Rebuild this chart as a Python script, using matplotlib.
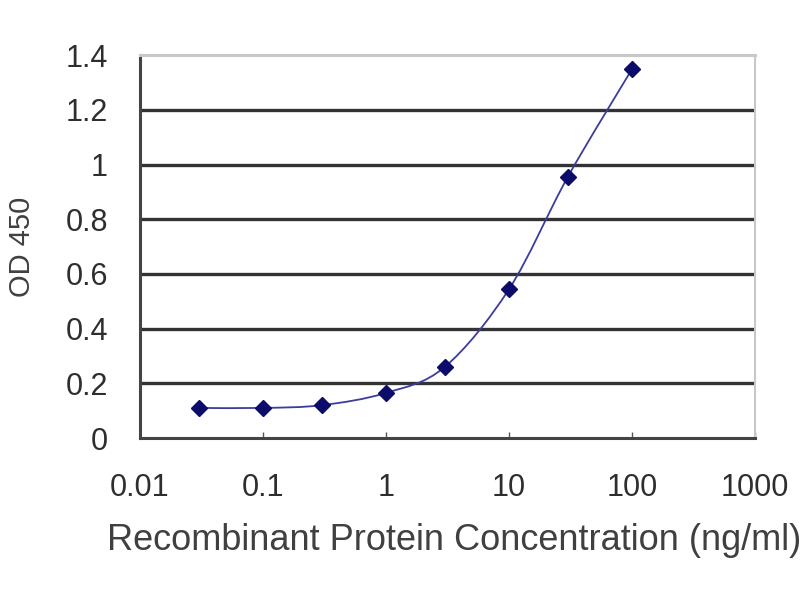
import matplotlib
matplotlib.use("Agg")
import matplotlib.pyplot as plt
import numpy as np
from matplotlib.path import Path
import matplotlib.patches as mpatches

plt.rcParams['font.family'] = ['Liberation Sans', 'DejaVu Sans']

# concentration (ng/ml) and OD 450
conc = [0.03, 0.1, 0.3, 1, 3, 10, 30, 100]
od = [0.11, 0.11, 0.12, 0.165, 0.26, 0.545, 0.955, 1.35]
xticks = [0.01, 0.1, 1, 10, 100, 1000]
xticklabels = ['0.01', '0.1', '1', '10', '100', '1000']
yticks = [0, 0.2, 0.4, 0.6, 0.8, 1, 1.2, 1.4]
yticklabels = ['0', '0.2', '0.4', '0.6', '0.8', '1', '1.2', '1.4']

navy = '#0c0c6a'


def smooth_path(xs, ys):
    # Catmull-Rom through the points, done in log-x space, as bezier segments
    lx = np.log10(xs)
    ys = np.asarray(ys, dtype=float)
    n = len(lx)
    verts = [(xs[0], ys[0])]
    codes = [Path.MOVETO]
    for i in range(n - 1):
        i0 = max(i - 1, 0)
        i3 = min(i + 2, n - 1)
        c1x = lx[i] + (lx[i + 1] - lx[i0]) / 6
        c1y = ys[i] + (ys[i + 1] - ys[i0]) / 6
        c2x = lx[i + 1] - (lx[i3] - lx[i]) / 6
        c2y = ys[i + 1] - (ys[i3] - ys[i]) / 6
        verts += [(10 ** c1x, c1y), (10 ** c2x, c2y), (xs[i + 1], ys[i + 1])]
        codes += [Path.CURVE4] * 3
    return Path(verts, codes)


fig = plt.figure(figsize=(8, 6), dpi=100)
ax = fig.add_axes([0.175, 0.27, 0.769, 0.638])

ax.set_xscale('log')
ax.set_xlim(0.01, 1000)
ax.set_ylim(0, 1.4)

for yv in yticks[1:-1]:
    ax.axhline(yv, color='#333333', lw=2.4, zorder=1)

patch = mpatches.PathPatch(smooth_path(conc, od), facecolor='none',
                           edgecolor='#3c3c9c', lw=1.3, zorder=2)
ax.add_patch(patch)
ax.plot(conc, od, linestyle='none', marker='D', markersize=8.5,
        color=navy, zorder=3)

ax.set_xticks(xticks)
ax.set_xticklabels(xticklabels, fontsize=22, color='#2e2e2e')
ax.xaxis.set_minor_locator(matplotlib.ticker.NullLocator())
ax.set_yticks(yticks)
ax.set_yticklabels(yticklabels, fontsize=22, color='#2e2e2e')

ax.tick_params(axis='x', direction='in', length=4, width=1, color='#555555', pad=25)
ax.tick_params(axis='y', length=0, pad=23)

ax.spines['left'].set_color('#444444')
ax.spines['left'].set_linewidth(2.2)
ax.spines['bottom'].set_color('#444444')
ax.spines['bottom'].set_linewidth(2.2)
ax.spines['top'].set_color('#c8c8c8')
ax.spines['top'].set_linewidth(2.2)
ax.spines['right'].set_color('#c8c8c8')
ax.spines['right'].set_linewidth(1.5)

ax.set_xlabel('Recombinant Protein Concentration (ng/ml)', fontsize=26,
              color='#404040')
ax.xaxis.set_label_coords(0.51, -0.222)
ax.set_ylabel('OD 450', fontsize=21, color='#404040', labelpad=21)

fig.savefig('out.png', dpi=100)
